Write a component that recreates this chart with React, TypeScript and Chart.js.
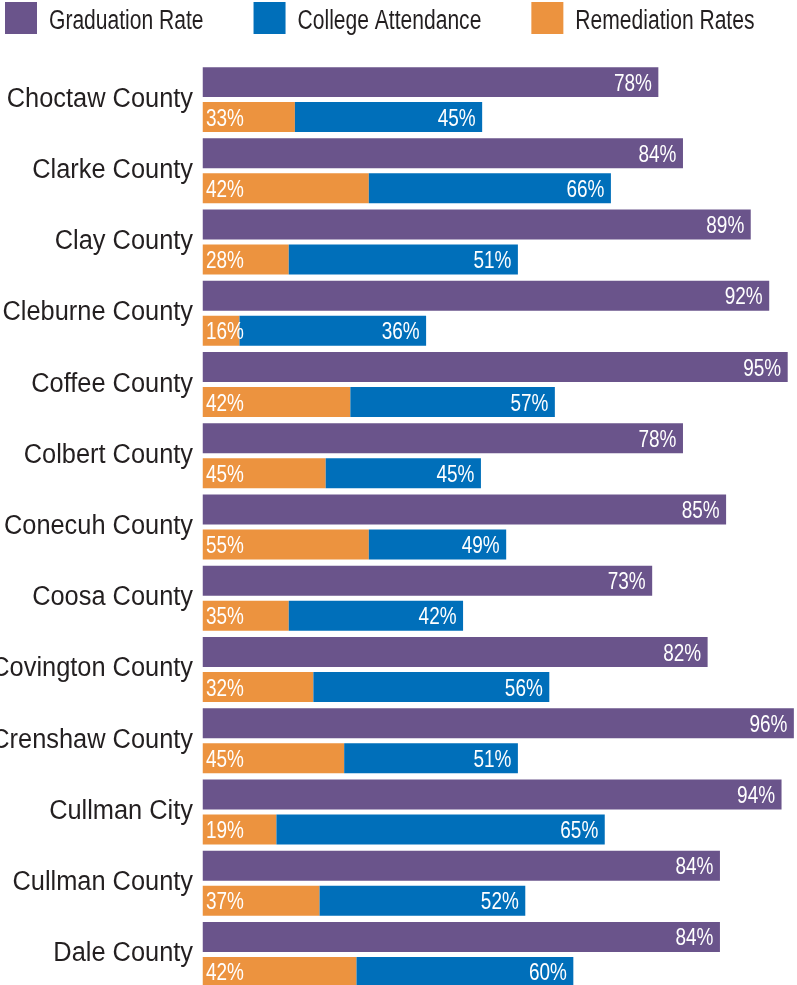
import React, { useEffect, useRef } from "react";
import { Chart, registerables } from "chart.js";

Chart.register(...registerables);

const categories = [
  "Choctaw County",
  "Clarke County",
  "Clay County",
  "Cleburne County",
  "Coffee County",
  "Colbert County",
  "Conecuh County",
  "Coosa County",
  "Covington County",
  "Crenshaw County",
  "Cullman City",
  "Cullman County",
  "Dale County",
];

// bar lengths as drawn
const graduationRate = [74, 78, 89, 92, 95, 78, 85, 73, 82, 96, 94, 84, 84];
const collegeAttendance = [45.4, 66.3, 51.2, 36.3, 57.2, 45.2, 49.3, 42.3, 56.3, 51.2, 65.3, 52.4, 60.2];
const remediationShare = [15, 27, 14, 6, 24, 20, 27, 14, 18, 23, 12, 19, 25];

// printed value labels
const graduationLabels = ["78%", "84%", "89%", "92%", "95%", "78%", "85%", "73%", "82%", "96%", "94%", "84%", "84%"];
const attendanceLabels = ["45%", "66%", "51%", "36%", "57%", "45%", "49%", "42%", "56%", "51%", "65%", "52%", "60%"];
const remediationLabels = ["33%", "42%", "28%", "16%", "42%", "45%", "55%", "35%", "32%", "45%", "19%", "37%", "42%"];

const seriesNames = ["Graduation Rate", "College Attendance", "Remediation Rates"];
const seriesColors = ["#6a548b", "#006fba", "#ec933f"];

const FONT = "'Liberation Sans', Arial, sans-serif";
const TEXT = "#231f20";

// draw text horizontally condensed (narrow face look)
function drawNarrow(
  ctx: CanvasRenderingContext2D,
  text: string,
  x: number,
  y: number,
  sx: number,
  align: "left" | "right"
) {
  ctx.save();
  ctx.translate(x, y);
  ctx.scale(sx, 1);
  ctx.textAlign = align;
  ctx.fillText(text, 0, 0);
  ctx.restore();
}

const textPlugin = {
  id: "textLayer",
  afterDatasetsDraw(chart: any) {
    const ctx: CanvasRenderingContext2D = chart.ctx;
    ctx.save();
    ctx.textBaseline = "alphabetic";

    // value labels
    ctx.font = `24px ${FONT}`;
    ctx.fillStyle = "#ffffff";
    const labelSets = [graduationLabels, attendanceLabels, remediationLabels];
    chart.data.datasets.forEach((_ds: any, di: number) => {
      const meta = chart.getDatasetMeta(di);
      meta.data.forEach((el: any, i: number) => {
        const txt = labelSets[di][i];
        if (di === 2) {
          drawNarrow(ctx, txt, el.base + 3.5, el.y + 8.6, 0.79, "left");
        } else {
          drawNarrow(ctx, txt, el.x - 6.5, el.y + 8.6, 0.79, "right");
        }
      });
    });

    // category labels
    const yScale = chart.scales.y;
    ctx.font = `27px ${FONT}`;
    ctx.fillStyle = TEXT;
    (chart.data.labels as string[]).forEach((lab: string, i: number) => {
      const y = yScale.getPixelForTick(i);
      drawNarrow(ctx, lab, chart.chartArea.left - 9.5, y + 7, 0.94, "right");
    });

    // legend
    ctx.font = `27px ${FONT}`;
    let x = 5;
    seriesNames.forEach((name, i) => {
      ctx.fillStyle = seriesColors[i];
      ctx.fillRect(x, 2, 32, 32);
      x += 32 + 12;
      ctx.fillStyle = TEXT;
      drawNarrow(ctx, name, x, 29, 0.78, "left");
      x += ctx.measureText(name).width * 0.78 + 50;
    });

    ctx.restore();
  },
};

export default function App() {
  const canvasRef = useRef<HTMLCanvasElement | null>(null);

  useEffect(() => {
    if (!canvasRef.current) return;
    const chart = new Chart(canvasRef.current, {
      type: "bar",
      data: {
        labels: categories,
        datasets: [
          {
            label: seriesNames[0],
            data: graduationRate,
            backgroundColor: seriesColors[0],
            stack: "grad",
            categoryPercentage: 0.982,
            barPercentage: 0.857,
          },
          {
            label: seriesNames[1],
            data: collegeAttendance.map((v, i) => [remediationShare[i], v]),
            backgroundColor: seriesColors[1],
            stack: "college",
            categoryPercentage: 0.982,
            barPercentage: 0.857,
          },
          {
            label: seriesNames[2],
            data: remediationShare.map((v) => [0, v]),
            backgroundColor: seriesColors[2],
            stack: "college",
            categoryPercentage: 0.982,
            barPercentage: 0.857,
          },
        ] as any,
      },
      options: {
        indexAxis: "y",
        responsive: false,
        animation: false,
        layout: { padding: { top: 64, bottom: 1, left: 0, right: 1.5 } },
        plugins: {
          legend: { display: false },
          tooltip: { enabled: false },
        },
        scales: {
          x: {
            stacked: false,
            min: 0,
            max: 100,
            display: false,
          },
          y: {
            grid: { display: false, drawTicks: false },
            border: { display: false },
            ticks: { display: false },
            afterFit: (scale: any) => {
              scale.width = 202.5;
              scale.paddingTop = 0;
              scale.paddingBottom = 0;
            },
          },
        },
      } as any,
      plugins: [textPlugin],
    });
    return () => chart.destroy();
  }, []);

  return (
    <div
      style={{
        position: "absolute",
        left: 0,
        top: 0,
        width: 797,
        height: 985,
        overflow: "hidden",
        background: "#ffffff",
      }}
    >
      <canvas
        ref={canvasRef}
        width={820}
        height={991}
        style={{ position: "absolute", left: 0, top: 0, width: 820, height: 991 }}
      />
    </div>
  );
}
